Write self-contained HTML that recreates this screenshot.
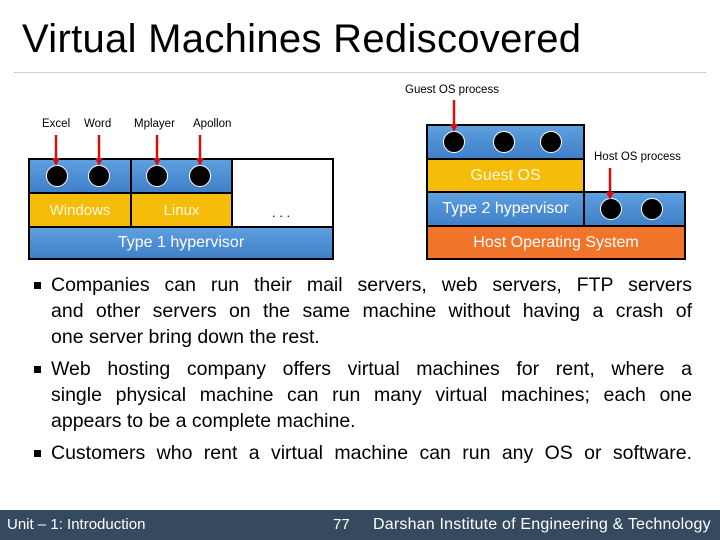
<!DOCTYPE html>
<html><head><meta charset="utf-8"><style>
body{margin:0;width:720px;height:540px;position:relative;background:#fff;font-family:"Liberation Sans",sans-serif;overflow:hidden}
.a{position:absolute}
.b{position:absolute;border:2px solid #000;box-sizing:border-box;color:#fff;font-size:15px;display:flex;align-items:center;justify-content:center}
.blue{background:linear-gradient(#5fa0e0,#3f80c8)}
.yel{background:#f5bd0a;color:#fff8dc}
.org{background:#f0742a}
.c{position:absolute;width:22px;height:22px;border-radius:50%;background:#000;border:1.5px solid #fff;box-sizing:border-box;margin:-11px 0 0 -11px}
.lb{position:absolute;font-size:11.5px;color:#000}
.ln{position:absolute;left:51px;width:641px;font-size:19.5px;color:#000;line-height:26px;height:26px;white-space:nowrap}
.j{text-align:justify;text-align-last:justify;white-space:normal}
.sq{position:absolute;left:34px;width:7px;height:7px;background:#000}
</style></head><body>
<div class="a" style="left:22px;top:17px;font-size:40px;color:#000;letter-spacing:0.3px">Virtual Machines Rediscovered</div>
<div class="a" style="left:14px;top:72px;width:692px;height:1px;background:#ccc"></div>

<div class="lb" style="left:42px;top:118px">Excel</div>
<div class="lb" style="left:84px;top:118px">Word</div>
<div class="lb" style="left:134px;top:118px">Mplayer</div>
<div class="lb" style="left:193px;top:118px">Apollon</div>

<div class="b" style="left:28px;top:158px;width:306px;height:102px;background:#fff"></div>
<div class="b blue" style="left:28px;top:158px;width:104px;height:36px"></div>
<div class="b blue" style="left:130px;top:158px;width:103px;height:36px"></div>
<div class="b yel" style="left:28px;top:192px;width:104px;height:36px">Windows</div>
<div class="b yel" style="left:130px;top:192px;width:103px;height:36px">Linux</div>
<div class="a" style="left:272px;top:205px;font-size:13px">. . .</div>
<div class="b blue" style="left:28px;top:226px;width:306px;height:34px;font-size:16px">Type 1 hypervisor</div>
<div class="c" style="left:57px;top:176px"></div><div class="c" style="left:99px;top:176px"></div>
<div class="c" style="left:157px;top:176px"></div><div class="c" style="left:200px;top:176px"></div>

<div class="lb" style="left:405px;top:84px">Guest OS process</div>
<div class="lb" style="left:594px;top:151px">Host OS process</div>
<div class="b blue" style="left:426px;top:124px;width:159px;height:36px"></div>
<div class="b yel" style="left:426px;top:158px;width:159px;height:35px;font-size:16px">Guest OS</div>
<div class="b blue" style="left:426px;top:191px;width:159px;height:36px;font-size:16px">Type 2 hypervisor</div>
<div class="b blue" style="left:583px;top:191px;width:103px;height:36px"></div>
<div class="b org" style="left:426px;top:225px;width:260px;height:35px;font-size:16px">Host Operating System</div>
<div class="c" style="left:454px;top:142px"></div><div class="c" style="left:504px;top:142px"></div><div class="c" style="left:551px;top:142px"></div>
<div class="c" style="left:611px;top:209px"></div><div class="c" style="left:652px;top:209px"></div>

<svg class="a" style="left:0;top:0" width="720" height="270">
<g stroke="#d01010" stroke-width="2.5">
<line x1="56" y1="135" x2="56" y2="160"/><line x1="99" y1="135" x2="99" y2="160"/>
<line x1="157" y1="135" x2="157" y2="160"/><line x1="200" y1="135" x2="200" y2="160"/>
<line x1="454" y1="100" x2="454" y2="126"/><line x1="610" y1="168" x2="610" y2="194"/>
</g>
<g fill="#d01010">
<path d="M52,158 L60,158 L56,166z"/><path d="M95,158 L103,158 L99,166z"/>
<path d="M153,158 L161,158 L157,166z"/><path d="M196,158 L204,158 L200,166z"/>
<path d="M450,124 L458,124 L454,132z"/><path d="M606,192 L614,192 L610,200z"/>
</g>
</svg>

<div class="sq" style="top:282px"></div>
<div class="ln j" style="top:272px">Companies can run their mail servers, web servers, FTP servers</div>
<div class="ln j" style="top:298px">and other servers on the same machine without having a crash of</div>
<div class="ln" style="top:324px">one server bring down the rest.</div>
<div class="sq" style="top:366px"></div>
<div class="ln j" style="top:356px">Web hosting company offers virtual machines for rent, where a</div>
<div class="ln j" style="top:382px">single physical machine can run many virtual machines; each one</div>
<div class="ln" style="top:408px">appears to be a complete machine.</div>
<div class="sq" style="top:450px"></div>
<div class="ln j" style="top:440px">Customers who rent a virtual machine can run any OS or software.</div>

<div class="a" style="left:0;top:510px;width:720px;height:30px;background:#354a5e;color:#fff;font-size:15px">
<span class="a" style="left:7px;top:6px">Unit – 1: Introduction</span>
<span class="a" style="left:333px;top:6px">77</span>
<span class="a" style="left:373px;top:6px;font-size:16px;letter-spacing:0.2px">Darshan Institute of Engineering &amp; Technology</span>
</div>
</body></html>
